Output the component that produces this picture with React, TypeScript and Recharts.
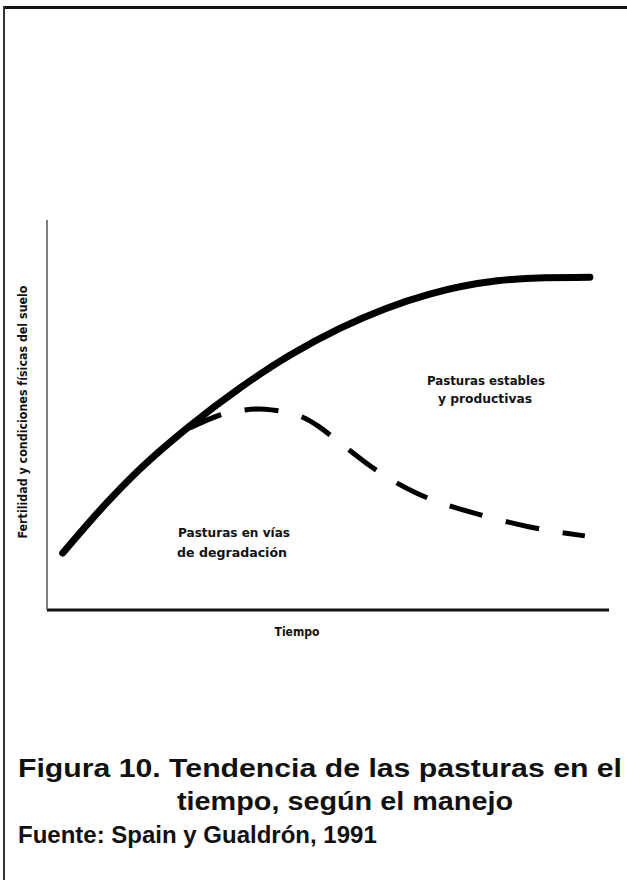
import { LineChart, Line, XAxis, YAxis } from "recharts";

// Solid curve: stable, productive pastures (time %, fertility %)
const stableTime = [2.8, 10.7, 16.5, 25.4, 34.3, 43.2, 52.1, 60.1, 68.1, 80.1, 88.6, 96.6];
const stableValue = [14.6, 27.6, 36.1, 47.2, 56.9, 65.3, 72.2, 77.2, 81.0, 84.4, 85.2, 85.3];

// Dashed curve: pastures on the way to degradation
const degradedTime = [25.4, 30.8, 35.2, 38.8, 43.2, 48.2, 56.6, 65.7, 75.4, 85.9, 95.7];
const degradedValue = [46.7, 50.0, 51.3, 51.5, 50.5, 47.2, 37.9, 30.0, 25.1, 21.3, 19.0];

const stableData = stableTime.map((t, i) => ({ t, f: stableValue[i] }));
const degradedData = degradedTime.map((t, i) => ({ t, f: degradedValue[i] }));

const NARROW = "'Liberation Sans Narrow', 'DejaVu Sans Condensed', 'Open Sans', sans-serif";
const CAPTION = "'Liberation Sans', Arial, Helvetica, sans-serif";

export default function App() {
  const small = { fontFamily: NARROW, fontSize: 13, fontWeight: 700, fill: "#111" };
  const caption = { fontFamily: CAPTION, fontSize: 25, fontWeight: 700, fill: "#111" };

  return (
    <div style={{ position: "absolute", left: 0, top: 0, width: 627, height: 880, background: "#fff", overflow: "hidden" }}>
      {/* scanned page border */}
      <div style={{ position: "absolute", left: 3, top: 6, width: 624, height: 3, background: "#111" }} />
      <div style={{ position: "absolute", left: 3, top: 6, width: 2, height: 874, background: "#333" }} />

      <div style={{ position: "absolute", left: 0, top: 0 }}>
        <LineChart width={627} height={660} margin={{ top: 220, right: 18, bottom: 49, left: 46 }}>
          <XAxis
            type="number"
            dataKey="t"
            domain={[0, 100]}
            tick={false}
            tickLine={false}
            height={1}
            axisLine={{ stroke: "#111", strokeWidth: 3 }}
          />
          <YAxis
            type="number"
            domain={[0, 100]}
            tick={false}
            tickLine={false}
            width={1}
            axisLine={{ stroke: "#555", strokeWidth: 1.5 }}
          />
          <Line
            data={stableData}
            dataKey="f"
            type="monotone"
            stroke="#000"
            strokeWidth={7}
            strokeLinecap="round"
            dot={false}
            activeDot={false}
            isAnimationActive={false}
          />
          <Line
            data={degradedData}
            dataKey="f"
            type="natural"
            stroke="#000"
            strokeWidth={5}
            strokeDasharray="34 24"
            dot={false}
            activeDot={false}
            isAnimationActive={false}
          />
          <text
            x={22}
            y={412}
            transform="rotate(-90 22 412)"
            textAnchor="middle"
            dominantBaseline="central"
            textLength={253}
            lengthAdjust="spacingAndGlyphs"
            style={small}
          >
            Fertilidad y condiciones físicas del suelo
          </text>
          <text x={297} y={636} textAnchor="middle" textLength={45} lengthAdjust="spacingAndGlyphs" style={{ ...small, fontSize: 12 }}>
            Tiempo
          </text>
          <text x={486} y={385} textAnchor="middle" textLength={118} lengthAdjust="spacingAndGlyphs" style={small}>
            Pasturas estables
          </text>
          <text x={485} y={403} textAnchor="middle" textLength={94} lengthAdjust="spacingAndGlyphs" style={small}>
            y productivas
          </text>
          <text x={234} y={537} textAnchor="middle" textLength={112} lengthAdjust="spacingAndGlyphs" style={small}>
            Pasturas en vías
          </text>
          <text x={232} y={557} textAnchor="middle" textLength={110} lengthAdjust="spacingAndGlyphs" style={small}>
            de degradación
          </text>
        </LineChart>
      </div>

      <svg width={627} height={220} style={{ position: "absolute", left: 0, top: 660 }}>
        <text x={18} y={117} textLength={604} lengthAdjust="spacingAndGlyphs" style={caption}>
          Figura 10. Tendencia de las pasturas en el
        </text>
        <text x={177} y={150} textLength={336} lengthAdjust="spacingAndGlyphs" style={caption}>
          tiempo, según el manejo
        </text>
        <text x={18} y={183} style={{ ...caption, fontSize: 24 }}>
          Fuente: Spain y Gualdrón, 1991
        </text>
      </svg>
    </div>
  );
}
